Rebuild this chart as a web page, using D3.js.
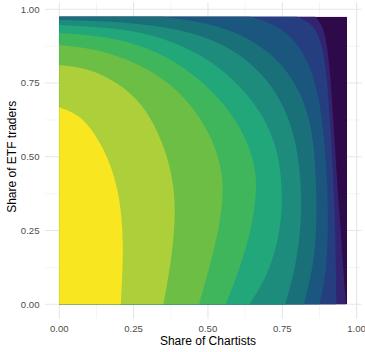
<!DOCTYPE html>
<html>
<head>
<meta charset="utf-8">
<script src="https://cdn.jsdelivr.net/npm/d3@7"></script>
<style>
body{margin:0;background:#fff;}
</style>
</head>
<body>
<div id="chart"></div>
<script>
const width=365;
const height=352;

//tick values and labels
const ticks=[0,0.25,0.5,0.75,1];
const tickLabels=["0.00","0.25","0.50","0.75","1.00"];
const minorTicks=[0.125,0.375,0.625,0.875];

//data extent of the filled contours
const xMax=0.968;
const yMax=0.975;

//band colours, inner (high) to outer (low)
const bandColors=["#f8e621","#add03a","#6cbe45","#3fb65c","#21a77a","#1d8c7c","#197079","#1b567e","#253e80","#332472","#2f0a4a"];

//contour boundaries, [share of chartists, share of ETF traders]
const level1=[[0,0.668],[0.065,0.645],[0.12,0.58],[0.165,0.495],[0.195,0.4],[0.21,0.3],[0.215,0.2],[0.212,0.1],[0.207,0]];
const level2=[[0,0.811],[0.1,0.8],[0.2,0.75],[0.28,0.68],[0.335,0.58],[0.37,0.48],[0.39,0.37],[0.388,0.25],[0.372,0.12],[0.35,0]];
const level3=[[0,0.879],[0.13,0.866],[0.27,0.815],[0.38,0.745],[0.46,0.655],[0.515,0.56],[0.543,0.47],[0.552,0.4],[0.545,0.3],[0.52,0.18],[0.47,0]];
const level4=[[0,0.92],[0.15,0.91],[0.3,0.872],[0.42,0.805],[0.52,0.72],[0.6,0.62],[0.645,0.52],[0.663,0.44],[0.662,0.36],[0.645,0.25],[0.61,0.13],[0.56,0]];
const level5=[[0,0.947],[0.2,0.937],[0.35,0.905],[0.48,0.845],[0.58,0.77],[0.66,0.68],[0.71,0.59],[0.738,0.5],[0.75,0.4],[0.748,0.285],[0.725,0.17],[0.69,0.08],[0.64,0]];
const level6=[[0,0.964],[0.25,0.956],[0.42,0.93],[0.55,0.885],[0.65,0.815],[0.72,0.735],[0.77,0.64],[0.8,0.53],[0.813,0.42],[0.815,0.285],[0.8,0.16],[0.78,0.07],[0.76,0]];
const level7=[[0.35,0.975],[0.5,0.955],[0.62,0.912],[0.71,0.853],[0.78,0.775],[0.83,0.675],[0.855,0.56],[0.864,0.42],[0.866,0.285],[0.858,0.15],[0.835,0.05],[0.823,0]];
const level8=[[0.641,0.975],[0.72,0.952],[0.785,0.905],[0.835,0.83],[0.868,0.73],[0.888,0.6],[0.9,0.45],[0.905,0.285],[0.9,0.14],[0.885,0.04],[0.875,0]];
const level9=[[0.8,0.975],[0.845,0.955],[0.872,0.915],[0.89,0.85],[0.902,0.75],[0.912,0.6],[0.92,0.45],[0.928,0.285],[0.93,0.12],[0.932,0]];
const level10=[[0.861,0.975],[0.885,0.945],[0.897,0.9],[0.91,0.8],[0.918,0.68],[0.928,0.52],[0.937,0.38],[0.944,0.285],[0.953,0.15],[0.962,0.03],[0.964,0]];
const levels=[level1,level2,level3,level4,level5,level6,level7,level8,level9,level10];

const svg=d3.select("#chart")
    .append("svg")
    .attr("width",width)
    .attr("height",height)
    .style("font-family","'Liberation Sans', Arial, sans-serif");

//panel with ggplot style 5% expansion
const x=d3.scaleLinear().domain([-0.0484,1.0164]).range([44.9,361.5]);
const y=d3.scaleLinear().domain([-0.0488,1.0238]).range([318.7,2.3]);

//grid
const grid=svg.append("g");
grid.selectAll(".minx").data(minorTicks).enter().append("line")
    .attr("x1",d=>x(d)).attr("x2",d=>x(d)).attr("y1",y.range()[0]).attr("y2",y.range()[1])
    .attr("stroke","#ececec").attr("stroke-width",0.6);
grid.selectAll(".miny").data(minorTicks).enter().append("line")
    .attr("y1",d=>y(d)).attr("y2",d=>y(d)).attr("x1",x.range()[0]).attr("x2",x.range()[1])
    .attr("stroke","#ececec").attr("stroke-width",0.6);
grid.selectAll(".majx").data(ticks).enter().append("line")
    .attr("x1",d=>x(d)).attr("x2",d=>x(d)).attr("y1",y.range()[0]).attr("y2",y.range()[1])
    .attr("stroke","#e6e6e6").attr("stroke-width",1.1);
grid.selectAll(".majy").data(ticks).enter().append("line")
    .attr("y1",d=>y(d)).attr("y2",d=>y(d)).attr("x1",x.range()[0]).attr("x2",x.range()[1])
    .attr("stroke","#e6e6e6").attr("stroke-width",1.1);

//clip to the data area
svg.append("clipPath").attr("id","clip")
    .append("rect")
    .attr("x",x(0)).attr("y",y(yMax))
    .attr("width",x(xMax)-x(0)).attr("height",y(0)-y(yMax));

const fills=svg.append("g").attr("clip-path","url(#clip)");

//outermost band as background
fills.append("rect")
    .attr("x",x(0)).attr("y",y(yMax))
    .attr("width",x(xMax)-x(0)).attr("height",y(0)-y(yMax))
    .attr("fill",bandColors[bandColors.length-1]);

const curve=d3.line().x(d=>x(d[0])).y(d=>y(d[1])).curve(d3.curveBasis);

//each level fills the region toward the lower left corner
function regionPath(pts){
    let d="M"+x(-0.02)+","+y(-0.02);
    if(pts[0][0]>0) d+="L"+x(-0.02)+","+y(yMax+0.02)+"L"+x(pts[0][0])+","+y(yMax+0.02);
    else d+="L"+x(-0.02)+","+y(pts[0][1]);
    d+="L"+curve(pts).slice(1);
    d+="L"+x(pts[pts.length-1][0])+","+y(-0.02)+"Z";
    return d;
}

fills.selectAll("path")
    .data(levels.slice().reverse())
    .enter()
    .append("path")
    .attr("d",regionPath)
    .attr("fill",(d,i)=>bandColors[levels.length-1-i]);

//tick labels
svg.append("g").selectAll("text").data(ticks).enter().append("text")
    .attr("x",39.5).attr("y",d=>y(d)).attr("dy","0.35em")
    .attr("text-anchor","end").attr("font-size",9.6).attr("fill","#4d4d4d")
    .text((d,i)=>tickLabels[i]);
svg.append("g").selectAll("text").data(ticks).enter().append("text")
    .attr("x",d=>x(d)).attr("y",328.5).attr("dy","0.35em")
    .attr("text-anchor","middle").attr("font-size",9.6).attr("fill","#4d4d4d")
    .text((d,i)=>tickLabels[i]);

//axis titles
svg.append("text")
    .attr("x",(x(0)+x(1))/2).attr("y",341).attr("dy","0.35em")
    .attr("text-anchor","middle").attr("font-size",12).attr("fill","#000")
    .text("Share of Chartists");
svg.append("text")
    .attr("transform",`translate(11.5,${(y(0)+y(1))/2}) rotate(-90)`)
    .attr("dy","0.35em")
    .attr("text-anchor","middle").attr("font-size",12).attr("fill","#000")
    .text("Share of ETF traders");
</script>
</body>
</html>
